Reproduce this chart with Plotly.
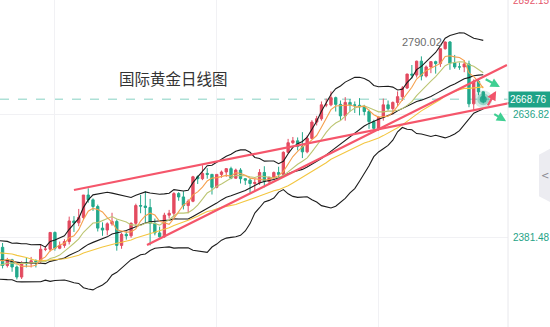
import pandas as pd
import plotly.graph_objects as go

# ---- daily gold bars (XAU/USD), 2024-06-20 .. 2024-11-11 ----
dates = [
    "06-20", "06-21", "06-24", "06-25", "06-26", "06-27", "06-28",
    "07-01", "07-02", "07-03", "07-04", "07-05", "07-08", "07-09", "07-10", "07-11", "07-12",
    "07-15", "07-16", "07-17", "07-18", "07-19", "07-22", "07-23", "07-24", "07-25", "07-26",
    "07-29", "07-30", "07-31", "08-01", "08-02", "08-05", "08-06", "08-07", "08-08", "08-09",
    "08-12", "08-13", "08-14", "08-15", "08-16", "08-19", "08-20", "08-21", "08-22", "08-23",
    "08-26", "08-27", "08-28", "08-29", "08-30", "09-02", "09-03", "09-04", "09-05", "09-06",
    "09-09", "09-10", "09-11", "09-12", "09-13", "09-16", "09-17", "09-18", "09-19", "09-20",
    "09-23", "09-24", "09-25", "09-26", "09-27", "09-30", "10-01", "10-02", "10-03", "10-04",
    "10-07", "10-08", "10-09", "10-10", "10-11", "10-14", "10-15", "10-16", "10-17", "10-18",
    "10-21", "10-22", "10-23", "10-24", "10-25", "10-28", "10-29", "10-30", "10-31", "11-01",
    "11-04", "11-05", "11-06", "11-07", "11-08", "11-11",
]
opens = [
    2329, 2360, 2322, 2334, 2319, 2298, 2327,
    2326, 2332, 2330, 2356, 2356, 2391, 2358, 2364, 2372, 2415,
    2411, 2422, 2469, 2459, 2445, 2400, 2396, 2409, 2414, 2364,
    2387, 2384, 2410, 2447, 2446, 2443, 2410, 2390, 2382, 2427,
    2431, 2472, 2465, 2447, 2456, 2507, 2503, 2514, 2512, 2485,
    2512, 2517, 2524, 2504, 2521, 2503, 2500, 2493, 2495, 2516,
    2497, 2506, 2516, 2512, 2558, 2578, 2582, 2570, 2559, 2587,
    2621, 2628, 2657, 2657, 2672, 2658, 2634, 2662, 2657, 2656,
    2653, 2643, 2622, 2608, 2631, 2657, 2649, 2662, 2674, 2692,
    2721, 2719, 2748, 2717, 2736, 2747, 2743, 2774, 2788, 2744,
    2736, 2736, 2742, 2659, 2706, 2684,
]
highs = [
    2365, 2369, 2338, 2336, 2322, 2331, 2339,
    2340, 2335, 2365, 2363, 2392, 2393, 2372, 2377, 2424, 2425,
    2440, 2469, 2483, 2462, 2449, 2412, 2412, 2432, 2418, 2390,
    2393, 2412, 2451, 2469, 2477, 2461, 2420, 2403, 2432, 2438,
    2475, 2475, 2477, 2460, 2509, 2510, 2531, 2525, 2513, 2512,
    2520, 2525, 2528, 2524, 2525, 2504, 2504, 2503, 2523, 2529,
    2507, 2518, 2528, 2560, 2586, 2590, 2589, 2600, 2593, 2625,
    2634, 2664, 2670, 2685, 2674, 2666, 2673, 2669, 2664, 2671,
    2657, 2647, 2626, 2633, 2670, 2666, 2664, 2685, 2696, 2722,
    2740, 2749, 2758, 2739, 2748, 2749, 2774, 2789, 2790.02, 2761,
    2745, 2750, 2749, 2710, 2709, 2685,
]
lows = [
    2328, 2316, 2318, 2309, 2293, 2294, 2318,
    2318, 2318, 2327, 2352, 2351, 2353, 2356, 2359, 2366, 2392,
    2404, 2417, 2453, 2436, 2393, 2384, 2385, 2405, 2353, 2357,
    2376, 2380, 2406, 2431, 2410, 2364, 2385, 2380, 2380, 2420,
    2422, 2457, 2439, 2431, 2454, 2492, 2500, 2503, 2470, 2483,
    2505, 2507, 2502, 2503, 2493, 2490, 2472, 2476, 2490, 2485,
    2490, 2500, 2500, 2510, 2556, 2575, 2562, 2546, 2556, 2585,
    2614, 2624, 2652, 2654, 2643, 2625, 2624, 2643, 2640, 2635,
    2635, 2607, 2604, 2603, 2624, 2645, 2637, 2654, 2665, 2690,
    2712, 2714, 2708, 2714, 2723, 2722, 2736, 2772, 2730, 2732,
    2730, 2725, 2652, 2644, 2677, 2660,
]
closes = [
    2360, 2322, 2334, 2319, 2298, 2327, 2326,
    2332, 2330, 2356, 2356, 2391, 2358, 2364, 2372, 2415, 2411,
    2422, 2469, 2459, 2445, 2400, 2396, 2409, 2414, 2364, 2387,
    2384, 2410, 2447, 2446, 2443, 2410, 2390, 2382, 2427, 2431,
    2472, 2465, 2447, 2456, 2507, 2503, 2514, 2512, 2485, 2512,
    2517, 2524, 2504, 2521, 2503, 2500, 2493, 2495, 2516, 2497,
    2506, 2516, 2512, 2558, 2578, 2582, 2570, 2559, 2587, 2621,
    2628, 2657, 2657, 2672, 2658, 2634, 2662, 2657, 2656, 2653,
    2643, 2622, 2608, 2631, 2657, 2649, 2662, 2674, 2692, 2721,
    2719, 2748, 2717, 2736, 2747, 2743, 2774, 2788, 2744, 2736,
    2736, 2742, 2659, 2706, 2684, 2668.76,
]
# closes of the 31 sessions before the first bar (feed the moving averages)
prior_closes = [
    2309, 2346, 2360, 2336, 2358, 2385, 2376, 2415, 2425, 2420,
    2379, 2329, 2334, 2351, 2361, 2338, 2343, 2327, 2349, 2327,
    2355, 2376, 2294, 2311, 2316, 2324, 2303, 2333, 2319, 2329, 2329,
]

# price-axis marks
axis_ticks = [2381.48, 2636.82, 2892.15]
axis_tick_colors = ["#1fa387", "#1fa387", "#e5566a"]
last_price = 2668.76
high_label = 2790.02
high_index = 95

# hand-drawn trend lines: (bar index, price) end points
trend_a_x = [16.0, 111.8]
trend_a_y = [2479.5, 2669.1]
trend_b_x = [31.35, 106.98]
trend_b_y = [2364.8, 2740.0]

# direction arrows: tail -> head, (bar index, price)
arrows = [
    dict(tail=(102.2, 2712.0), head=(105.5, 2694.0), color="#3fcf92"),
    dict(tail=(104.0, 2639.5), head=(106.8, 2623.0), color="#3fcf92"),
    dict(tail=(102.8, 2653.0), head=(104.7, 2686.0), color="#f2546b"),
]

title_text = "国际黄金日线图"

UP = "#e34b60"
DOWN = "#23a98b"
TEAL = "#1fa387"
TREND = "#f5566b"
LABEL_FONT = "Liberation Sans, Arial"

x_range = [0.46, 107.2]
y_range = [2193.9, 2875.5]

n = len(closes)
x = list(range(n))

# ---- indicators computed from closes ----
s = pd.Series(prior_closes + closes, dtype=float)
ma5 = s.rolling(5).mean().iloc[-n:].tolist()
ma10 = s.rolling(10).mean().iloc[-n:].tolist()
ma30 = s.rolling(30).mean().iloc[-n:].tolist()
mid = s.rolling(20).mean()
sd = s.rolling(20).std(ddof=0)
boll_mid = mid.iloc[-n:].tolist()
boll_up = (mid + 2 * sd).iloc[-n:].tolist()
boll_dn = (mid - 2 * sd).iloc[-n:].tolist()

fig = go.Figure()

for series, color in [(boll_up, "#1c1c1c"), (boll_mid, "#1c1c1c"), (boll_dn, "#1c1c1c"),
                      (ma30, "#f3c640"), (ma10, "#bcc572"), (ma5, "#f6a04d")]:
    fig.add_trace(go.Scatter(x=x, y=series, mode="lines",
                             line=dict(color=color, width=1.1),
                             hoverinfo="skip", showlegend=False))

fig.add_trace(go.Candlestick(
    x=x, open=opens, high=highs, low=lows, close=closes,
    text=dates, hoverinfo="text+y",
    increasing=dict(line=dict(color=UP, width=1), fillcolor=UP),
    decreasing=dict(line=dict(color=DOWN, width=1), fillcolor=DOWN),
    whiskerwidth=0, showlegend=False,
))

# glow on the live price
for size, alpha in [(18, 0.18), (12, 0.35), (7, 0.9)]:
    fig.add_trace(go.Scatter(
        x=[x[-1]], y=[last_price], mode="markers", cliponaxis=False,
        marker=dict(size=size, color=f"rgba(31,163,135,{alpha})", line=dict(width=0)),
        hoverinfo="skip", showlegend=False))

shapes = []
# current price guide
shapes.append(dict(type="line", xref="paper", x0=0, x1=1, yref="y", y0=last_price, y1=last_price,
                   line=dict(color="#86d2c2", width=1, dash="dash"), layer="below"))
# trend lines
for tx, ty in [(trend_a_x, trend_a_y), (trend_b_x, trend_b_y)]:
    shapes.append(dict(type="line", xref="x", yref="y", x0=tx[0], y0=ty[0], x1=tx[1], y1=ty[1],
                       line=dict(color=TREND, width=2.2)))


def to_px(ix):
    return (ix - x_range[0]) / (x_range[1] - x_range[0])


def to_py(p):
    return (p - y_range[0]) / (y_range[1] - y_range[0])


# part of trend line A that runs on past the plot edge
slope_a = (trend_a_y[1] - trend_a_y[0]) / (trend_a_x[1] - trend_a_x[0])
price_edge = trend_a_y[0] + slope_a * (x_range[1] - trend_a_x[0])

# price-scale separator
shapes.append(dict(type="line", xref="paper", yref="paper", x0=1, x1=1, y0=0, y1=1,
                   line=dict(color="#e8e8ec", width=1)))
# collapse tab on the right edge
shapes.append(dict(type="path", xref="paper", yref="paper",
                   path="M 1.061,0.527 L 1.083,0.545 L 1.083,0.382 L 1.061,0.400 Z",
                   fillcolor="#ececf1", line=dict(width=0)))

annotations = [
    dict(text=title_text, xref="paper", yref="paper", x=0.341, y=0.762, showarrow=False,
         xanchor="center", yanchor="middle",
         font=dict(family="Noto Sans CJK SC", size=15.5, color="#333333")),
    dict(text=f"{high_label:.2f}", xref="x", yref="y", x=high_index, y=high_label,
         xanchor="right", yanchor="middle", xshift=-6, yshift=-1, showarrow=False,
         font=dict(family=LABEL_FONT, size=11, color="#6b6b6b")),
    dict(text="<", xref="paper", yref="paper", x=1.072, y=0.463, showarrow=False,
         xanchor="center", yanchor="middle",
         font=dict(family="DejaVu Sans", size=10, color="#8a8a93")),
]
for val, col in zip(axis_ticks, axis_tick_colors):
    yp = min(to_py(val), 1.0)
    annotations.append(dict(text=f"{val:.2f}", xref="paper", yref="paper", x=1, y=yp,
                            xanchor="left", yanchor="middle", xshift=3, showarrow=False,
                            font=dict(family=LABEL_FONT, size=10, color=col)))
annotations.append(dict(text=f"{last_price:.2f}", xref="paper", yref="y", x=1, y=last_price,
                        xanchor="left", yanchor="middle", showarrow=False, width=40, height=13,
                        align="left", bgcolor=TEAL, borderpad=1,
                        font=dict(family=LABEL_FONT, size=10, color="white")))
for a in arrows:
    annotations.append(dict(text="", xref="x", yref="y", axref="x", ayref="y",
                            x=a["head"][0], y=a["head"][1], ax=a["tail"][0], ay=a["tail"][1],
                            showarrow=True, arrowhead=2, arrowsize=0.85, arrowwidth=2.2,
                            arrowcolor=a["color"]))

# trend line A carried over the price label
shapes.append(dict(type="line", xref="paper", yref="paper",
                   x0=1, y0=to_py(price_edge), x1=to_px(trend_a_x[1]), y1=to_py(trend_a_y[1]),
                   line=dict(color=TREND, width=2.2), layer="above"))

fig.update_layout(
    width=550, height=327, autosize=False,
    margin=dict(l=0, r=42, t=0, b=0),
    paper_bgcolor="white", plot_bgcolor="white",
    shapes=shapes, annotations=annotations,
    showlegend=False, hovermode="closest",
    xaxis=dict(range=x_range, rangeslider=dict(visible=False), showticklabels=False,
               tickmode="array", tickvals=[12, 46, 80], showgrid=True,
               gridcolor="#f1f1f4", gridwidth=1, zeroline=False, showline=False, ticks=""),
    yaxis=dict(range=y_range, showticklabels=False, tickmode="array", tickvals=axis_ticks,
               showgrid=True, gridcolor="#f1f1f4", gridwidth=1, zeroline=False,
               showline=False, ticks=""),
)

fig.write_html("out.html")
